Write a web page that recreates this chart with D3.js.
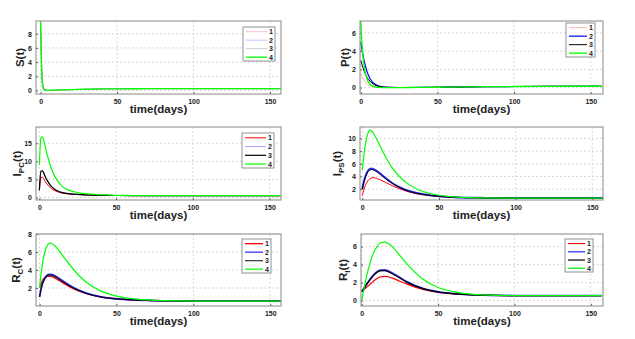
<!DOCTYPE html>
<html>
<head>
<meta charset="utf-8">
<script src="https://cdn.jsdelivr.net/npm/d3@7"></script>
<style>
  body { margin: 0; background: #fff; }
  svg { font-family: "Liberation Sans", Arial, sans-serif; }
  .tick text { font-size: 7px; font-weight: bold; fill: #222; }
  .grid line { stroke: #c8c8c8; stroke-dasharray: 2,2; stroke-width: 0.7; }
  .lbl { font-weight: bold; fill: #222; }
</style>
</head>
<body>
<div id="chart"></div>
<script>

// time points (days)
var tt = [0, 1, 2, 3, 4, 5, 6, 7, 8, 10, 12, 15, 20, 25, 30, 40, 50, 60, 70, 80, 100, 120, 157];

var seriesNames = ["1", "2", "3", "4"];

// S(t)
var s1 = [9.5, 2.2, 0.4, 0.08, 0.03, 0.02, 0.02, 0.03, 0.04, 0.05, 0.07, 0.09, 0.12, 0.15, 0.18, 0.21, 0.23, 0.24, 0.25, 0.25, 0.25, 0.25, 0.25];
var s2 = [9.6, 2.0, 0.35, 0.07, 0.03, 0.02, 0.02, 0.03, 0.04, 0.05, 0.07, 0.09, 0.12, 0.15, 0.18, 0.21, 0.23, 0.24, 0.25, 0.25, 0.25, 0.25, 0.25];
var s3 = [9.7, 1.8, 0.3, 0.06, 0.03, 0.02, 0.02, 0.03, 0.04, 0.05, 0.07, 0.09, 0.12, 0.15, 0.18, 0.21, 0.23, 0.24, 0.25, 0.25, 0.25, 0.25, 0.25];
var s4 = [10, 1.2, 0.15, 0.03, 0.02, 0.02, 0.02, 0.03, 0.04, 0.05, 0.07, 0.09, 0.12, 0.15, 0.18, 0.21, 0.23, 0.24, 0.25, 0.25, 0.25, 0.25, 0.25];

// P(t)
var p1 = [1.5, 1.1, 0.8, 0.6, 0.45, 0.33, 0.25, 0.18, 0.13, 0.07, 0.04, 0.02, 0.01, 0.01, 0.01, 0.02, 0.04, 0.06, 0.08, 0.1, 0.12, 0.14, 0.15];
var p2 = [5, 4, 3.1, 2.4, 1.8, 1.35, 1.0, 0.75, 0.55, 0.3, 0.17, 0.07, 0.02, 0.01, 0.01, 0.02, 0.04, 0.06, 0.08, 0.1, 0.12, 0.14, 0.15];
var p3 = [3, 2.4, 1.9, 1.5, 1.15, 0.9, 0.7, 0.52, 0.4, 0.22, 0.12, 0.05, 0.02, 0.01, 0.01, 0.02, 0.04, 0.06, 0.08, 0.1, 0.12, 0.14, 0.15];
var p4 = [7.3, 4.3, 2.6, 1.6, 1.0, 0.6, 0.38, 0.24, 0.15, 0.06, 0.02, 0.0, 0.0, 0.0, 0.01, 0.02, 0.04, 0.06, 0.08, 0.1, 0.12, 0.14, 0.15];

// I_PC(t)
var pc1 = [2, 5.5, 5.6, 5.0, 4.3, 3.7, 3.2, 2.8, 2.4, 1.9, 1.55, 1.2, 0.95, 0.8, 0.7, 0.6, 0.55, 0.52, 0.5, 0.5, 0.5, 0.5, 0.5];
var pc2 = [2, 7.0, 7.2, 6.4, 5.5, 4.7, 4.0, 3.4, 2.9, 2.2, 1.75, 1.3, 1.0, 0.85, 0.72, 0.6, 0.55, 0.52, 0.5, 0.5, 0.5, 0.5, 0.5];
var pc3 = [2, 7.3, 7.4, 6.6, 5.6, 4.8, 4.1, 3.5, 3.0, 2.3, 1.8, 1.35, 1.02, 0.86, 0.73, 0.6, 0.55, 0.52, 0.5, 0.5, 0.5, 0.5, 0.5];
var pc4 = [9, 16.5, 16.8, 15.5, 13.8, 12, 10.5, 9, 7.8, 5.9, 4.5, 3.0, 1.9, 1.35, 1.05, 0.75, 0.6, 0.55, 0.52, 0.5, 0.5, 0.5, 0.5];

// I_PS(t)
var ps1 = [1, 1.9, 2.6, 3.1, 3.45, 3.65, 3.78, 3.82, 3.8, 3.65, 3.45, 3.1, 2.5, 2.0, 1.6, 1.1, 0.85, 0.72, 0.65, 0.62, 0.6, 0.6, 0.6];
var ps2 = [2, 3.2, 4.0, 4.6, 5.0, 5.2, 5.25, 5.2, 5.1, 4.8, 4.4, 3.8, 2.9, 2.25, 1.75, 1.2, 0.9, 0.75, 0.67, 0.63, 0.6, 0.6, 0.6];
var ps3 = [2, 3.1, 3.9, 4.5, 4.85, 5.05, 5.1, 5.05, 4.95, 4.65, 4.3, 3.7, 2.85, 2.2, 1.7, 1.18, 0.88, 0.74, 0.66, 0.62, 0.6, 0.6, 0.6];
var ps4 = [5, 7.3, 9.0, 10.3, 11.0, 11.3, 11.2, 10.9, 10.5, 9.6, 8.6, 7.2, 5.2, 3.8, 2.8, 1.6, 1.05, 0.8, 0.68, 0.63, 0.6, 0.6, 0.6];

// R_C(t)
var rc1 = [2, 2.5, 2.85, 3.05, 3.2, 3.28, 3.3, 3.3, 3.25, 3.1, 2.9, 2.6, 2.1, 1.7, 1.4, 1.0, 0.8, 0.68, 0.62, 0.58, 0.55, 0.55, 0.55];
var rc2 = [1, 1.9, 2.55, 2.95, 3.25, 3.42, 3.5, 3.52, 3.5, 3.35, 3.15, 2.8, 2.25, 1.8, 1.45, 1.02, 0.8, 0.68, 0.62, 0.58, 0.55, 0.55, 0.55];
var rc3 = [1, 1.85, 2.5, 2.9, 3.18, 3.35, 3.42, 3.43, 3.4, 3.26, 3.06, 2.72, 2.2, 1.76, 1.42, 1.0, 0.8, 0.68, 0.62, 0.58, 0.55, 0.55, 0.55];
var rc4 = [2, 3.6, 4.8, 5.7, 6.3, 6.7, 6.95, 7.0, 6.95, 6.7, 6.3, 5.6, 4.5, 3.5, 2.7, 1.65, 1.1, 0.82, 0.68, 0.6, 0.55, 0.55, 0.55];

// R_I(t)
var ri1 = [1, 1.15, 1.3, 1.45, 1.6, 1.75, 1.9, 2.05, 2.2, 2.45, 2.62, 2.7, 2.5, 2.15, 1.8, 1.25, 0.92, 0.75, 0.65, 0.6, 0.55, 0.55, 0.55];
var ri2 = [1, 1.25, 1.5, 1.75, 2.0, 2.25, 2.5, 2.7, 2.9, 3.2, 3.38, 3.4, 3.05, 2.55, 2.05, 1.35, 0.97, 0.78, 0.67, 0.61, 0.56, 0.55, 0.55];
var ri3 = [1, 1.25, 1.5, 1.75, 2.0, 2.22, 2.45, 2.65, 2.85, 3.12, 3.3, 3.32, 2.98, 2.5, 2.0, 1.33, 0.96, 0.77, 0.66, 0.6, 0.55, 0.55, 0.55];
var ri4 = [0, 0.9, 1.8, 2.6, 3.3, 3.9, 4.5, 5.0, 5.4, 6.0, 6.4, 6.5, 6.0, 5.0, 4.0, 2.4, 1.45, 1.0, 0.75, 0.63, 0.56, 0.55, 0.55];

// tick labels
var xTicks = [0, 50, 100, 150];
var yTicksS = [0, 2, 4, 6, 8];
var yTicksP = [0, 2, 4, 6];
var yTicksPC = [0, 5, 10, 15];
var yTicksPS = [2, 4, 6, 8, 10];
var yTicksRC = [2, 4, 6, 8];
var yTicksRI = [0, 2, 4, 6];

var colors = ["#ff0000", "#0000ff", "#000000", "#00ff00"];

// panel layout (pixel boxes) and per panel options
var panels = [
  { main: "S", sub: "", series: [s1, s2, s3, s4], yt: yTicksS, yd: [-0.5, 9.8], xd: [-3, 157.2],
    box: [36, 21, 281, 94], widths: [0.5, 0.5, 0.5, 1.3], opac: [0.5, 0.5, 0.4, 1],
    legend: [243, 27, 275, 61], ylx: 24 },
  { main: "P", sub: "", series: [p1, p2, p3, p4], yt: yTicksP, yd: [-0.7, 7.3], xd: [-0.5, 158],
    box: [360, 21, 603, 94], widths: [0.6, 1.2, 1, 1.3], opac: [0.5, 1, 1, 1],
    legend: [566, 23, 595, 57], ylx: 349 },
  { main: "I", sub: "PC", series: [pc1, pc2, pc3, pc4], yt: yTicksPC, yd: [-0.7, 19.5], xd: [-2.2, 157.5],
    box: [36, 127, 281, 200], widths: [1, 0.6, 1.2, 1.2], opac: [1, 0.6, 1, 1],
    legend: [242, 133, 274, 168], ylx: 21 },
  { main: "I", sub: "PS", series: [ps1, ps2, ps3, ps4], yt: yTicksPS, yd: [0.3, 11.8], xd: [-1.5, 157],
    box: [360, 127, 603, 200], widths: [1, 2, 1, 1.2], opac: [1, 0.8, 1, 1],
    legend: null, ylx: 341 },
  { main: "R", sub: "C", series: [rc1, rc2, rc3, rc4], yt: yTicksRC, yd: [0, 8], xd: [-2.3, 157],
    box: [36, 234, 281, 306], widths: [1.3, 1.8, 1.2, 1.2], opac: [1, 0.8, 0.8, 1],
    legend: [242, 239, 271, 273], ylx: 20 },
  { main: "R", sub: "I", series: [ri1, ri2, ri3, ri4], yt: yTicksRI, yd: [-0.6, 7.4], xd: [-0.5, 158],
    box: [361, 234, 603, 306], widths: [1.2, 1.8, 1.2, 1.2], opac: [1, 0.8, 1, 1],
    legend: [565, 239, 593, 272], ylx: 347 }
];

var svg = d3.select("#chart").append("svg")
  .attr("width", 635)
  .attr("height", 339);

panels.forEach(function(p, pi) {
  var left = p.box[0], top = p.box[1], w = p.box[2] - p.box[0], h = p.box[3] - p.box[1];

  var x = d3.scaleLinear().domain(p.xd).range([0, w]);
  var y = d3.scaleLinear().domain(p.yd).range([h, 0]);

  var g = svg.append("g").attr("transform", "translate(" + left + "," + top + ")");

  g.append("clipPath").attr("id", "clip" + pi)
    .append("rect").attr("width", w).attr("height", h);

  // grid
  g.append("g").attr("class", "grid")
    .selectAll("line").data(xTicks).enter().append("line")
    .attr("x1", function(d) { return x(d); }).attr("x2", function(d) { return x(d); })
    .attr("y1", 0).attr("y2", h);
  g.append("g").attr("class", "grid")
    .selectAll("line").data(p.yt).enter().append("line")
    .attr("x1", 0).attr("x2", w)
    .attr("y1", function(d) { return y(d); }).attr("y2", function(d) { return y(d); });

  // x axis
  g.append("g")
    .attr("transform", "translate(0," + h + ")")
    .call(d3.axisBottom(x).tickValues(xTicks).tickSize(-2).tickPadding(5))
    .call(function(a) { a.select(".domain").remove(); a.selectAll(".tick line").attr("stroke", "#555"); });

  // y axis
  g.append("g")
    .call(d3.axisLeft(y).tickValues(p.yt).tickSize(-2).tickPadding(4))
    .call(function(a) { a.select(".domain").remove(); a.selectAll(".tick line").attr("stroke", "#555"); });

  // lines
  var line = d3.line()
    .x(function(d, i) { return x(tt[i]); })
    .y(function(d) { return y(d); })
    .curve(d3.curveMonotoneX);

  var lg = g.append("g").attr("clip-path", "url(#clip" + pi + ")");
  p.series.forEach(function(vals, si) {
    lg.append("path")
      .datum(vals)
      .attr("d", line)
      .attr("fill", "none")
      .attr("stroke", colors[si])
      .attr("stroke-opacity", p.opac[si])
      .attr("stroke-width", p.widths[si]);
  });

  // frame
  g.append("rect")
    .attr("width", w).attr("height", h)
    .attr("fill", "none").attr("stroke", "#888").attr("stroke-width", 1);

  // x label
  g.append("text").attr("class", "lbl")
    .attr("x", w / 2).attr("y", h + 19)
    .attr("text-anchor", "middle")
    .style("font-size", "11.5px")
    .text("time(days)");

  // y label
  var yl = svg.append("text").attr("class", "lbl")
    .attr("transform", "translate(" + p.ylx + "," + (top + h / 2) + ") rotate(-90)")
    .attr("text-anchor", "middle")
    .style("font-size", "11.5px");
  yl.append("tspan").text(p.main);
  if (p.sub) {
    yl.append("tspan").attr("dy", 3).style("font-size", "8px").text(p.sub);
    yl.append("tspan").attr("dy", -3).text("(t)");
  } else {
    yl.append("tspan").text("(t)");
  }

  // legend
  if (p.legend) {
    var L = p.legend;
    var lgd = svg.append("g").attr("transform", "translate(" + L[0] + "," + L[1] + ")");
    var lw = L[2] - L[0], lh = L[3] - L[1];
    lgd.append("rect").attr("width", lw).attr("height", lh)
      .attr("fill", "#fff").attr("stroke", "#777").attr("stroke-width", 0.8);
    var step = lh / 4;
    seriesNames.forEach(function(n, si) {
      var yy = step * (si + 0.55);
      lgd.append("line")
        .attr("x1", 3).attr("x2", lw - 8)
        .attr("y1", yy).attr("y2", yy)
        .attr("stroke", colors[si])
        .attr("stroke-opacity", p.opac[si])
        .attr("stroke-width", Math.min(p.widths[si], 1.3));
      lgd.append("text").attr("class", "lbl")
        .attr("x", lw - 6).attr("y", yy + 2.5)
        .style("font-size", "7px")
        .text(n);
    });
  }
});
</script>
</body>
</html>
